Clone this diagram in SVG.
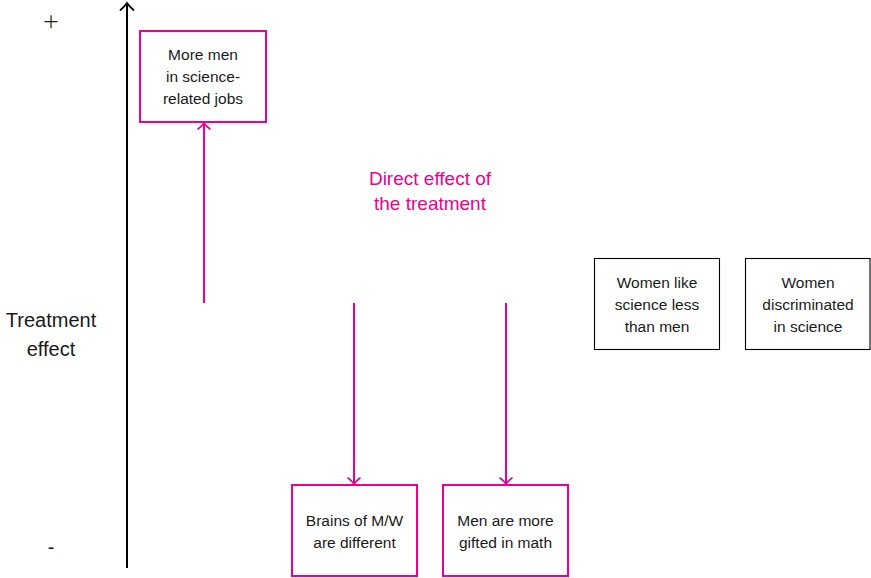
<svg xmlns="http://www.w3.org/2000/svg" width="871" height="578" viewBox="0 0 871 578">
  <defs>
    <marker id="tipPink" markerUnits="userSpaceOnUse" markerWidth="16" markerHeight="16" refX="8" refY="8" orient="auto" overflow="visible">
      <path d="M2,2 Q5,6 8,8 Q5,10 2,14" fill="none" stroke="#EC008C" stroke-width="1.6" stroke-linecap="round"/>
    </marker>
    <marker id="tipBlack" markerUnits="userSpaceOnUse" markerWidth="16" markerHeight="16" refX="8" refY="8" orient="auto" overflow="visible">
      <path d="M1,1.5 Q5,6 8,8 Q5,10 1,14.5" fill="none" stroke="#000" stroke-width="1.8" stroke-linecap="round"/>
    </marker>
  </defs>
  <style>
    text { font-family: "Liberation Sans", Arial, sans-serif; fill: #1a1a1a; }
    .lbl { font-size: 15.5px; text-anchor: middle; }
    .pink { fill: none; stroke: #EC008C; stroke-width: 2; }
    .plain { fill: none; stroke: #000; stroke-width: 1.1; }
    .edge { fill: none; stroke: #EC008C; stroke-width: 2; marker-end: url(#tipPink); }
    .axisTxt { font-size: 20px; text-anchor: middle; }
    .sign { font-family: "Open Sans", "Liberation Sans", sans-serif; font-weight: 300; font-size: 28px; text-anchor: middle; }
    .note { font-size: 19px; text-anchor: middle; fill: #EC008C; }
  </style>
  <rect width="871" height="578" fill="#fff"/>

  <!-- vertical axis -->
  <g id="axis">
    <line x1="127" y1="568" x2="127" y2="3" stroke="#000" stroke-width="2" marker-end="url(#tipBlack)"/>
    <text class="sign" x="51" y="31">+</text>
    <text class="axisTxt" x="51" y="327">Treatment</text>
    <text class="axisTxt" x="51" y="356">effect</text>
    <text class="axisTxt" x="51" y="554">-</text>
  </g>

  <!-- connectors -->
  <g id="connectors">
    <line class="edge" x1="204" y1="303" x2="204" y2="123"/>
    <line class="edge" x1="354" y1="303" x2="354" y2="484"/>
    <line class="edge" x1="506" y1="303" x2="506" y2="484"/>
  </g>

  <g id="direct-effect">
    <text class="note" x="430" y="185">Direct effect of</text>
    <text class="note" x="430" y="210">the treatment</text>
  </g>

  <g id="more-men">
    <rect class="pink" x="140" y="31" width="126" height="91"/>
    <text class="lbl" x="203" y="60">More men</text>
    <text class="lbl" x="203" y="82">in science-</text>
    <text class="lbl" x="203" y="104">related jobs</text>
  </g>

  <g id="brains">
    <rect class="pink" x="292" y="485" width="125" height="91"/>
    <text class="lbl" x="354.5" y="526">Brains of M/W</text>
    <text class="lbl" x="354.5" y="548">are different</text>
  </g>

  <g id="gifted">
    <rect class="pink" x="443" y="485" width="125" height="91"/>
    <text class="lbl" x="505.5" y="526">Men are more</text>
    <text class="lbl" x="505.5" y="548">gifted in math</text>
  </g>

  <g id="like-science">
    <rect class="plain" x="594.5" y="258.5" width="125" height="91"/>
    <text class="lbl" x="657" y="288">Women like</text>
    <text class="lbl" x="657" y="310">science less</text>
    <text class="lbl" x="657" y="332">than men</text>
  </g>

  <g id="discriminated">
    <rect class="plain" x="745.5" y="258.5" width="124.5" height="91"/>
    <text class="lbl" x="808" y="288">Women</text>
    <text class="lbl" x="808" y="310">discriminated</text>
    <text class="lbl" x="808" y="332">in science</text>
  </g>
</svg>
